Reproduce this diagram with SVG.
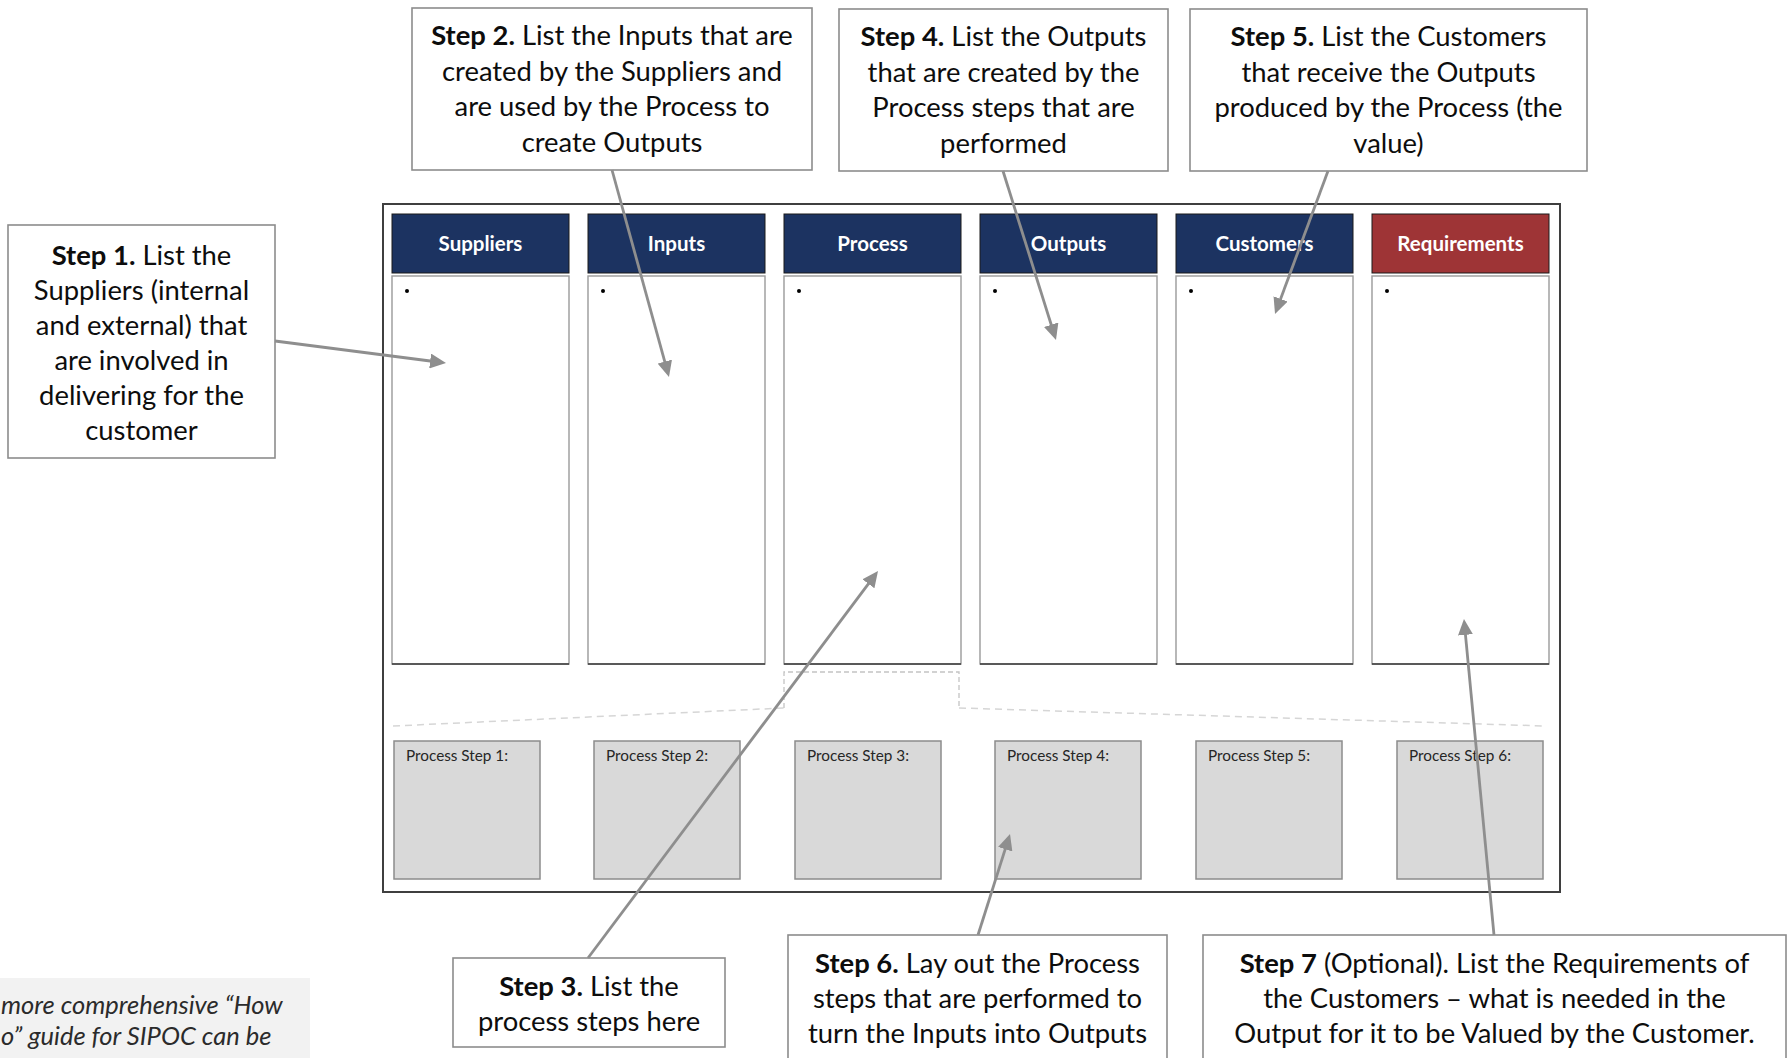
<svg xmlns="http://www.w3.org/2000/svg" width="1788" height="1058" viewBox="0 0 1788 1058">
  <style>
    .note { fill: #ffffff; stroke: #8c8c8c; stroke-width: 1.6; }
    .ntext { font-family: Lato, "Liberation Sans", sans-serif; font-size: 27.4px; fill: #0d0d0d; text-anchor: middle; }
    .b { font-weight: bold; }
    .head { stroke: #1a1a1a; stroke-width: 1; }
    .navy { fill: #1c3361; }
    .red { fill: #9e3436; }
    .htext { font-family: Lato, "Liberation Sans", sans-serif; font-size: 20.5px; font-weight: bold; fill: #ffffff; text-anchor: middle; }
    .body { fill: #ffffff; stroke: #9a9a9a; stroke-width: 1.4; }
    .base { stroke: #3a3a3a; stroke-width: 1.6; }
    .step { fill: #d9d9d9; stroke: #8c8c8c; stroke-width: 1.5; }
    .stext { font-family: Lato, "Liberation Sans", sans-serif; font-size: 15.3px; fill: #262626; }
    .itext { font-family: Lato, "Liberation Sans", sans-serif; font-size: 25.5px; font-style: italic; fill: #2b2b2b; }
    .conn { stroke: #8e8e8e; stroke-width: 2.8; fill: none; marker-end: url(#arrow); }
  </style>
  <defs>
    <marker id="arrow" viewBox="0 0 16 15" refX="4" refY="7.5" markerWidth="16" markerHeight="15" markerUnits="userSpaceOnUse" orient="auto">
      <path d="M0,0 L16,7.5 L0,15 z" fill="#8e8e8e"/>
    </marker>
  </defs>

  <rect width="1788" height="1058" fill="#ffffff"/>

  <!-- SIPOC frame -->
  <rect x="383" y="204" width="1177" height="688" fill="#ffffff" stroke="#3f3f3f" stroke-width="2"/>

  <!-- column headers and bodies -->
  <g id="col-suppliers">
    <rect class="head navy" x="392" y="214" width="177" height="59"/>
    <text class="htext" x="480.5" y="251">Suppliers</text>
    <rect class="body" x="392" y="276" width="177" height="388"/>
    <line class="base" x1="392" y1="664" x2="569" y2="664"/>
    <circle cx="407" cy="291" r="2" fill="#000"/>
  </g>
  <g id="col-inputs">
    <rect class="head navy" x="588" y="214" width="177" height="59"/>
    <text class="htext" x="676.5" y="251">Inputs</text>
    <rect class="body" x="588" y="276" width="177" height="388"/>
    <line class="base" x1="588" y1="664" x2="765" y2="664"/>
    <circle cx="603" cy="291" r="2" fill="#000"/>
  </g>
  <g id="col-process">
    <rect class="head navy" x="784" y="214" width="177" height="59"/>
    <text class="htext" x="872.5" y="251">Process</text>
    <rect class="body" x="784" y="276" width="177" height="388"/>
    <line class="base" x1="784" y1="664" x2="961" y2="664"/>
    <circle cx="799" cy="291" r="2" fill="#000"/>
  </g>
  <g id="col-outputs">
    <rect class="head navy" x="980" y="214" width="177" height="59"/>
    <text class="htext" x="1068.5" y="251">Outputs</text>
    <rect class="body" x="980" y="276" width="177" height="388"/>
    <line class="base" x1="980" y1="664" x2="1157" y2="664"/>
    <circle cx="995" cy="291" r="2" fill="#000"/>
  </g>
  <g id="col-customers">
    <rect class="head navy" x="1176" y="214" width="177" height="59"/>
    <text class="htext" x="1264.5" y="251">Customers</text>
    <rect class="body" x="1176" y="276" width="177" height="388"/>
    <line class="base" x1="1176" y1="664" x2="1353" y2="664"/>
    <circle cx="1191" cy="291" r="2" fill="#000"/>
  </g>
  <g id="col-requirements">
    <rect class="head red" x="1372" y="214" width="177" height="59"/>
    <text class="htext" x="1460.5" y="251">Requirements</text>
    <rect class="body" x="1372" y="276" width="177" height="388"/>
    <line class="base" x1="1372" y1="664" x2="1549" y2="664"/>
    <circle cx="1387" cy="291" r="2" fill="#000"/>
  </g>

  <!-- expansion of the Process column into steps -->
  <g id="process-bracket" fill="none">
    <path d="M393,726 L784,708 M959,708 L1545,726" stroke="#d6d6d6" stroke-width="1.5" stroke-dasharray="7,5"/>
    <path d="M784,708 L784,672 L959,672 L959,708" stroke="#c4c4c4" stroke-width="1.3" stroke-dasharray="5,3"/>
  </g>

  <g id="step-1"><rect class="step" x="394" y="741" width="146" height="138"/><text class="stext" x="406" y="761">Process Step 1:</text></g>
  <g id="step-2"><rect class="step" x="594" y="741" width="146" height="138"/><text class="stext" x="606" y="761">Process Step 2:</text></g>
  <g id="step-3"><rect class="step" x="795" y="741" width="146" height="138"/><text class="stext" x="807" y="761">Process Step 3:</text></g>
  <g id="step-4"><rect class="step" x="995" y="741" width="146" height="138"/><text class="stext" x="1007" y="761">Process Step 4:</text></g>
  <g id="step-5"><rect class="step" x="1196" y="741" width="146" height="138"/><text class="stext" x="1208" y="761">Process Step 5:</text></g>
  <g id="step-6"><rect class="step" x="1397" y="741" width="146" height="138"/><text class="stext" x="1409" y="761">Process Step 6:</text></g>

  <!-- instruction callouts -->
  <g id="note-1">
    <rect class="note" x="8" y="225" width="267" height="233"/>
    <text class="ntext" x="141.5" y="264.5"><tspan class="b">Step 1.</tspan> List the</text>
    <text class="ntext" x="141.5" y="299.5">Suppliers (internal</text>
    <text class="ntext" x="141.5" y="334.5">and external) that</text>
    <text class="ntext" x="141.5" y="369.5">are involved in</text>
    <text class="ntext" x="141.5" y="404.5">delivering for the</text>
    <text class="ntext" x="141.5" y="439.5">customer</text>
  </g>
  <g id="note-2">
    <rect class="note" x="412" y="8" width="400" height="162"/>
    <text class="ntext" x="612" y="45"><tspan class="b">Step 2.</tspan> List the Inputs that are</text>
    <text class="ntext" x="612" y="80.5">created by the Suppliers and</text>
    <text class="ntext" x="612" y="116">are used by the Process to</text>
    <text class="ntext" x="612" y="151.5">create Outputs</text>
  </g>
  <g id="note-4">
    <rect class="note" x="839" y="9" width="329" height="162"/>
    <text class="ntext" x="1003.5" y="46"><tspan class="b">Step 4.</tspan> List the Outputs</text>
    <text class="ntext" x="1003.5" y="81.5">that are created by the</text>
    <text class="ntext" x="1003.5" y="117">Process steps that are</text>
    <text class="ntext" x="1003.5" y="152.5">performed</text>
  </g>
  <g id="note-5">
    <rect class="note" x="1190" y="9" width="397" height="162"/>
    <text class="ntext" x="1388.5" y="46"><tspan class="b">Step 5.</tspan> List the Customers</text>
    <text class="ntext" x="1388.5" y="81.5">that receive the Outputs</text>
    <text class="ntext" x="1388.5" y="117">produced by the Process (the</text>
    <text class="ntext" x="1388.5" y="152.5">value)</text>
  </g>
  <g id="note-3">
    <rect class="note" x="453" y="958" width="272" height="89"/>
    <text class="ntext" x="589" y="996"><tspan class="b">Step 3.</tspan> List the</text>
    <text class="ntext" x="589" y="1030.5">process steps here</text>
  </g>
  <g id="note-6">
    <rect class="note" x="788" y="935" width="379" height="140"/>
    <text class="ntext" x="977.5" y="973"><tspan class="b">Step 6.</tspan> Lay out the Process</text>
    <text class="ntext" x="977.5" y="1008">steps that are performed to</text>
    <text class="ntext" x="977.5" y="1043">turn the Inputs into Outputs</text>
  </g>
  <g id="note-7">
    <rect class="note" x="1203" y="935" width="583" height="140"/>
    <text class="ntext" x="1494.5" y="973"><tspan class="b">Step 7</tspan> (Optional). List the Requirements of</text>
    <text class="ntext" x="1494.5" y="1008">the Customers – what is needed in the</text>
    <text class="ntext" x="1494.5" y="1043">Output for it to be Valued by the Customer.</text>
  </g>
  <g id="guide-note">
    <rect x="0" y="978" width="310" height="80" fill="#f2f2f2"/>
    <text class="itext" x="1" y="1014">more comprehensive “How</text>
    <text class="itext" x="1" y="1045">o” guide for SIPOC can be</text>
  </g>

  <!-- connectors from callouts to their areas -->
  <g id="connectors">
    <line class="conn" x1="275" y1="341" x2="434.1" y2="361.5"/>
    <line class="conn" x1="612" y1="170" x2="665.8" y2="365.4"/>
    <line class="conn" x1="1003" y1="171" x2="1052.4" y2="328.5"/>
    <line class="conn" x1="1328" y1="171" x2="1279.2" y2="302.7"/>
    <line class="conn" x1="588" y1="958" x2="870.8" y2="580.6"/>
    <line class="conn" x1="978" y1="935" x2="1006.4" y2="845.4"/>
    <line class="conn" x1="1494" y1="935" x2="1465.1" y2="630.9"/>
  </g>
</svg>
